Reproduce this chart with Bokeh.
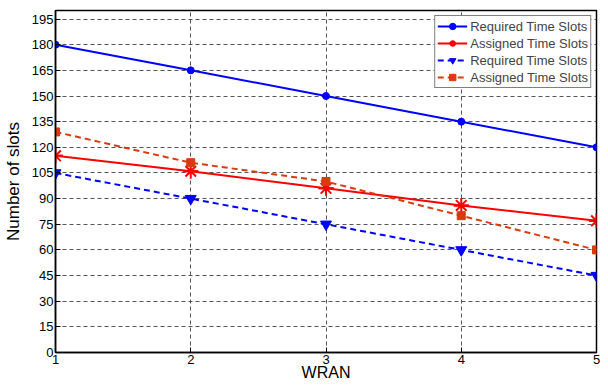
from bokeh.plotting import figure
from bokeh.models import (ColumnDataSource, Legend, LegendItem, FixedTicker, Range1d)
from bokeh.embed import file_html
from bokeh.resources import INLINE

wran = [1, 2, 3, 4, 5]
required_a = [180, 165, 150, 135, 120]
assigned_a = [115, 106, 96, 86, 77]
required_b = [105, 90, 75, 60, 45]
assigned_b = [129, 111, 100, 80, 60]
y_ticks = list(range(0, 196, 15))
x_ticks = [1, 2, 3, 4, 5]
labels = ["Required Time Slots", "Assigned Time Slots", "Required Time Slots", "Assigned Time Slots"]

FONT = "Liberation Sans"
BLUE = "#0000FF"
RED = "#FF0000"
ORANGE = "#D93A0E"

p = figure(width=600, frame_height=342, output_backend="svg", toolbar_location=None,
           x_range=Range1d(1, 5), y_range=Range1d(0, 200),
           min_border_left=50, min_border_right=4, min_border_top=10, min_border_bottom=0)
p.background_fill_color = "white"
p.outline_line_color = "black"
p.outline_line_width = 1.5

src = ColumnDataSource(dict(x=wran, ra=required_a, aa=assigned_a, rb=required_b, ab=assigned_b))

l1 = p.line("x", "ra", source=src, line_color=BLUE, line_width=2)
m1 = p.scatter("x", "ra", source=src, marker="circle", size=7, fill_color=BLUE, line_color=BLUE)

l2 = p.line("x", "aa", source=src, line_color=RED, line_width=2)
m2 = p.scatter("x", "aa", source=src, marker="asterisk", size=15, line_color=RED, line_width=2)
m2b = p.scatter("x", "aa", source=src, marker="dash", size=15, line_color=RED, line_width=2)

l3 = p.line("x", "rb", source=src, line_color=BLUE, line_width=2, line_dash="6 4")
m3 = p.scatter("x", "rb", source=src, marker="inverted_triangle", size=11, fill_color=BLUE, line_color=BLUE)

l4 = p.line("x", "ab", source=src, line_color=ORANGE, line_width=2, line_dash="6 4")
m4 = p.scatter("x", "ab", source=src, marker="square", size=8, fill_color=ORANGE, line_color=ORANGE)

for ax in (p.xaxis[0], p.yaxis[0]):
    ax.major_tick_in = 5
    ax.major_tick_out = 0
    ax.minor_tick_line_color = None
    ax.axis_line_color = "black"
    ax.axis_line_width = 1.5
    ax.major_tick_line_color = "black"
    ax.major_label_text_font = FONT
    ax.major_label_text_font_size = "13px"
    ax.major_label_text_color = "black"
    ax.axis_label_text_font = FONT
    ax.axis_label_text_font_size = "17px"
    ax.axis_label_text_font_style = "normal"
    ax.axis_label_text_color = "black"

p.xaxis.ticker = FixedTicker(ticks=x_ticks)
p.yaxis.ticker = FixedTicker(ticks=y_ticks)
p.xaxis.axis_label = "WRAN"
p.yaxis.axis_label = "Number of slots"
p.xaxis.major_label_standoff = 2
p.xaxis.axis_label_standoff = -3
p.xaxis.axis_label_text_font_size = "16px"
p.yaxis.major_label_standoff = 2
p.yaxis.axis_label_standoff = 6

p.xgrid.ticker = FixedTicker(ticks=x_ticks)
p.ygrid.ticker = FixedTicker(ticks=y_ticks)
for g in (p.xgrid[0], p.ygrid[0]):
    g.grid_line_color = "#444444"
    g.grid_line_dash = "4 3"
    g.grid_line_width = 1
    g.grid_line_alpha = 0.9

legend = Legend(items=[
    LegendItem(label=labels[0], renderers=[l1, m1]),
    LegendItem(label=labels[1], renderers=[l2, m2, m2b]),
    LegendItem(label=labels[2], renderers=[l3, m3]),
    LegendItem(label=labels[3], renderers=[l4, m4]),
], location="top_right")
legend.label_text_font = FONT
legend.label_text_font_size = "13px"
legend.label_height = 16
legend.glyph_height = 16
legend.glyph_width = 30
legend.spacing = 1
legend.padding = 2
legend.margin = 5
legend.label_standoff = 3
legend.border_line_color = "black"
legend.border_line_width = 1
legend.background_fill_alpha = 1
p.add_layout(legend)

open("out.html", "w").write(file_html(p, INLINE))
